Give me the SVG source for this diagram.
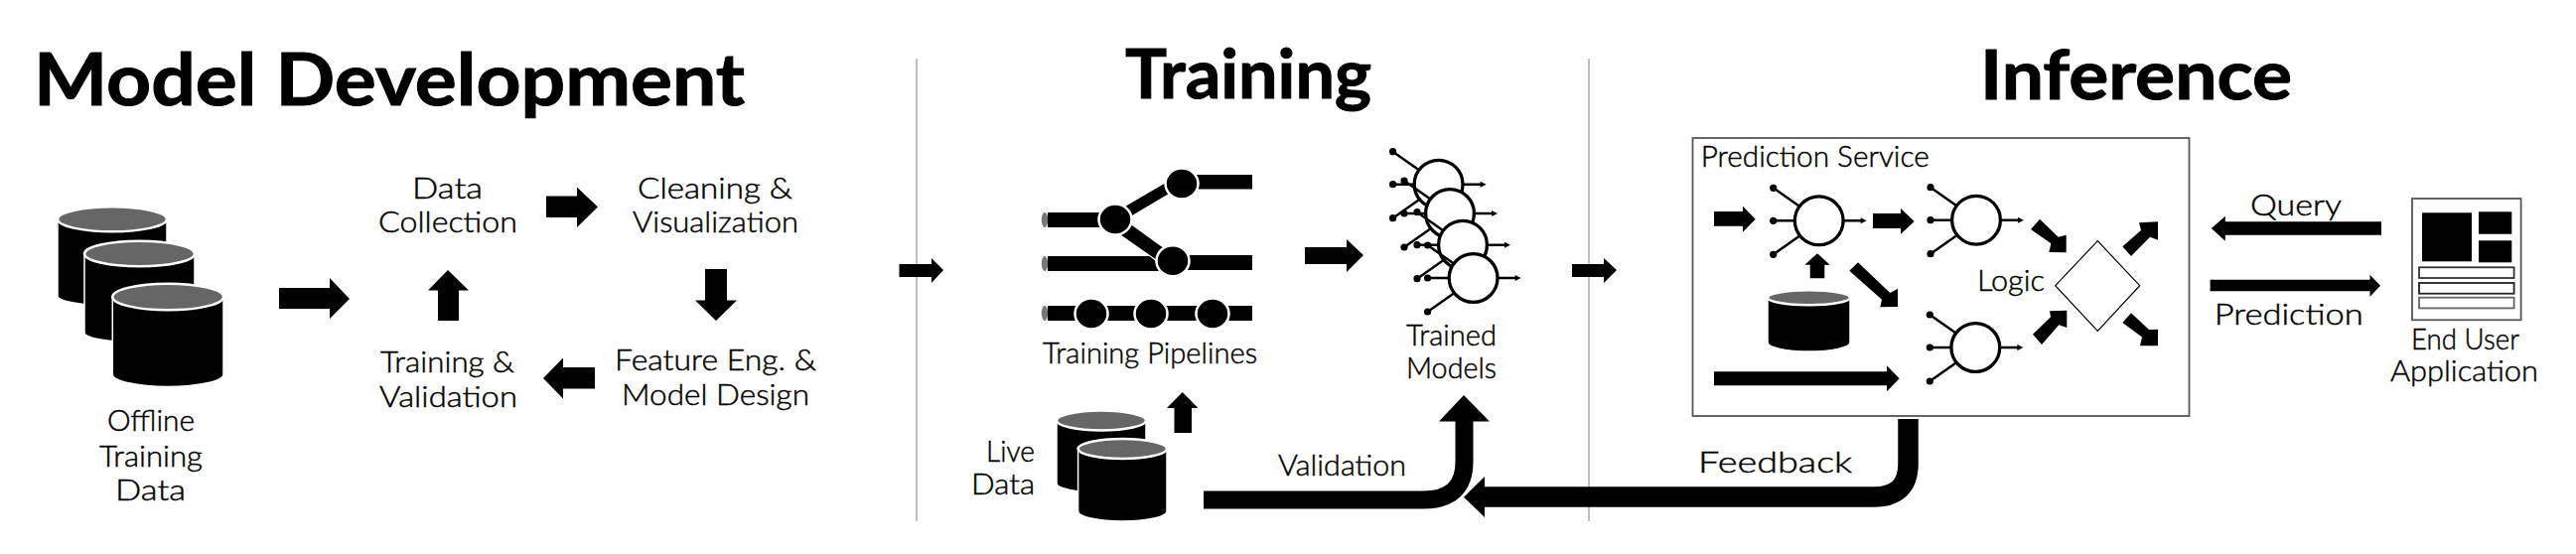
<svg xmlns="http://www.w3.org/2000/svg" width="2594" height="558" viewBox="0 0 2594 558">
<style>
text{font-family:"Lato","Liberation Sans",sans-serif;fill:#000;stroke:#000;stroke-width:.45px;font-size:29.500px;font-weight:300;text-anchor:start}
text.h{font-weight:700;font-size:68.500px;stroke-width:1px}
text.h1{font-size:73px}
.top{fill:#666;stroke:#fff;stroke-width:2.5}
.cb{fill:#000;stroke:#fff;stroke-width:1.5}
.n{fill:#fff;stroke:#000;stroke-width:3.3}
.w{stroke:#000;stroke-width:2.5;fill:none}
.pn{fill:#000;stroke:#fff;stroke-width:2.5}
.flow{fill:none;stroke:#000}
</style>
<defs>
<g id="neuron">
<path class="w" d="M-46,-33L-19,-14M-46,0H-25M-46,34L-19,15M25,0H43"/>
<circle cx="-46" cy="-33" r="3.6"/><circle cx="-46" cy="0" r="3.6"/><circle cx="-46" cy="34" r="3.6"/>
<path d="M42,-3L48,0L42,3Z"/>
<circle class="n" r="24.4"/>
</g>
</defs>
<rect width="2594" height="558" fill="#fff"/>
<g id="dividers" stroke="#aaa" stroke-width="1.5">
<path d="M923,59V525M1600,59V525"/>
</g>
<g id="titles">
<text class="h h1" x="34" y="106" textLength="716" lengthAdjust="spacingAndGlyphs">Model Development</text>
<text class="h" x="1133" y="99" textLength="248" lengthAdjust="spacingAndGlyphs">Training</text>
<text class="h" x="1994" y="100" textLength="314" lengthAdjust="spacingAndGlyphs">Inference</text>
</g>
<g id="offline-data">
<path class="cb" d="M58,221V298A55,10 0 0 0 168,298V221Z"/><ellipse class="top" cx="113" cy="220.800" rx="55" ry="12.500"/>
<path class="cb" d="M85,256V335A55.500,10 0 0 0 196,335V256Z"/><ellipse class="top" cx="140.500" cy="255.500" rx="55.500" ry="12.800"/>
<path class="cb" d="M113.300,299V377A55.850,12.500 0 0 0 225,377V299Z"/><ellipse class="top" cx="169.150" cy="299" rx="55.850" ry="13.300"/>
<text x="108" y="434" textLength="88" lengthAdjust="spacingAndGlyphs">Offline</text>
<text x="100" y="470" textLength="104" lengthAdjust="spacingAndGlyphs">Training</text>
<text x="116" y="504" textLength="71" lengthAdjust="spacingAndGlyphs">Data</text>
</g>
<g id="data-collection"><text x="415" y="199.500" textLength="71" lengthAdjust="spacingAndGlyphs">Data</text><text x="381" y="234" textLength="140" lengthAdjust="spacingAndGlyphs">Collection</text></g>
<g id="cleaning"><text x="642" y="199.500" textLength="156" lengthAdjust="spacingAndGlyphs">Cleaning &amp;</text><text x="637" y="234" textLength="167" lengthAdjust="spacingAndGlyphs">Visualization</text></g>
<g id="feature-eng"><text x="619" y="373" textLength="203" lengthAdjust="spacingAndGlyphs">Feature Eng. &amp;</text><text x="626" y="408" textLength="189" lengthAdjust="spacingAndGlyphs">Model Design</text></g>
<g id="training-validation"><text x="383" y="375" textLength="135" lengthAdjust="spacingAndGlyphs">Training &amp;</text><text x="382" y="409.500" textLength="139" lengthAdjust="spacingAndGlyphs">Validation</text></g>
<g id="training-pipelines">
<ellipse cx="1052" cy="221.500" rx="3.200" ry="7.500" fill="#777"/><ellipse cx="1052" cy="265.500" rx="3.200" ry="7.500" fill="#777"/><ellipse cx="1052" cy="315.500" rx="3.200" ry="7.500" fill="#777"/>
<path d="M1055,214H1125V229H1055ZM1195,176H1261V190.500H1195ZM1055,258H1157.500L1170,268L1175,273H1055ZM1185,257H1261V272H1185ZM1055,308H1261V323H1055Z"/>
<path d="M1132.500,208.300L1175.400,183.300L1177,195L1139.600,217.300ZM1139.600,226.700L1171.800,250L1164.600,261.700L1129,236.700Z"/>
<ellipse class="pn" cx="1123" cy="221" rx="16.500" ry="15.500"/>
<ellipse class="pn" cx="1190" cy="185" rx="16.500" ry="15.500"/>
<ellipse class="pn" cx="1181" cy="262.700" rx="16.500" ry="15.500"/>
<ellipse class="pn" cx="1099" cy="316" rx="16.500" ry="15.500"/>
<ellipse class="pn" cx="1159" cy="316" rx="16.500" ry="15.500"/>
<ellipse class="pn" cx="1221" cy="316" rx="16.500" ry="15.500"/>
<text x="1050" y="366" textLength="216" lengthAdjust="spacingAndGlyphs">Training Pipelines</text>
</g>
<g id="trained-models">
<use href="#neuron" x="1448.600" y="185.700"/>
<use href="#neuron" x="1460" y="215"/>
<use href="#neuron" x="1473" y="246.700"/>
<use href="#neuron" x="1483.600" y="280"/>
<text x="1416" y="347.500" textLength="91" lengthAdjust="spacingAndGlyphs">Trained</text>
<text x="1416" y="381" textLength="91" lengthAdjust="spacingAndGlyphs">Models</text>
</g>
<g id="live-data">
<path class="cb" d="M1064,423.500V487A45,9 0 0 0 1154,487V423.500Z"/><ellipse class="top" cx="1109" cy="423.500" rx="45" ry="10"/>
<path class="cb" d="M1085.600,452V515A44.700,10 0 0 0 1175,515V452Z"/><ellipse class="top" cx="1130.300" cy="452" rx="44.700" ry="10"/>
<text x="993" y="465" textLength="49" lengthAdjust="spacingAndGlyphs">Live</text>
<text x="978" y="498" textLength="64" lengthAdjust="spacingAndGlyphs">Data</text>
</g>
<g id="prediction-service">
<rect x="1704.500" y="139" width="500" height="280" fill="#fff" stroke="#555" stroke-width="1.800"/>
<text x="1712.700" y="167.700" textLength="230" lengthAdjust="spacingAndGlyphs">Prediction Service</text>
<use href="#neuron" x="1831.700" y="222.300"/>
<use href="#neuron" x="1990" y="221.700"/>
<use href="#neuron" x="1989.300" y="350"/>
<path class="cb" d="M1780,300V345A41.500,9 0 0 0 1863,345V300Z"/><ellipse class="top" cx="1821.500" cy="299.700" rx="41.500" ry="7.500"/>
<text x="1991" y="293.300" textLength="68" lengthAdjust="spacingAndGlyphs">Logic</text>
<path id="logic" d="M2069.700,287.700L2112.300,242.700L2154.700,287.700L2112.300,333.300Z" fill="#fff" stroke="#000" stroke-width="1.200"/>
</g>
<g id="end-user-app">
<rect x="2429" y="200" width="109.600" height="122.300" fill="#fff" stroke="#555" stroke-width="1.800"/>
<rect x="2439" y="214.300" width="50" height="49"/><rect x="2496" y="213.300" width="33.300" height="22.400"/><rect x="2496" y="242.300" width="33.300" height="22"/>
<g fill="#fff" stroke-width="1.800"><rect x="2436" y="269.300" width="95.600" height="10.700" stroke="#333"/><rect x="2436" y="285" width="95.600" height="10.700" stroke="#222"/><rect x="2436" y="299.700" width="95.600" height="10.700" stroke="#666"/></g>
<text x="2428" y="351.700" textLength="109" lengthAdjust="spacingAndGlyphs">End User</text>
<text x="2407" y="384.300" textLength="149" lengthAdjust="spacingAndGlyphs">Application</text>
</g>
<g id="connectors">
<path d="M281,290H332V280L352,301L332,321V311H281Z"/>
<path d="M550,197.500H581V188.600L602,208.500L581,229V219H550Z"/>
<path d="M710,271H732V302.500H742L721,323L700,302.500H710Z"/>
<path d="M599,370H567V360.500L547,381L567,401.500V391.500H599Z"/>
<path d="M441,323V292.500H431L451,272L472,292.500H462V323Z"/>
<path d="M905.500,266H938V260L950,272L938,285V279H905.500Z"/>
<path d="M1583,266H1615V260L1628,272L1615,285V279H1583Z"/>
<path d="M1314,249H1356V241L1373,257L1356,274V266H1314Z"/>
<path d="M1182.500,436V411H1175L1190.700,395L1206.500,411H1200V436Z"/>
<path class="flow" stroke-width="18" d="M1212,503.500H1433Q1474.500,503.500 1474.500,465V422"/>
<path d="M1449,424.500L1474,398L1500,424.500Z"/>
<path class="flow" stroke-width="20.500" d="M1921.500,422V467Q1921.500,500.500 1887,500.500H1493"/>
<path d="M1495,480L1474,500.700L1495,521Z"/>
<path d="M1726,213H1755V207.700L1767.700,220.700L1755,233.700V227.700H1726Z"/>
<path d="M1886,215H1914V210L1927.700,223L1914,235.700V230H1886Z"/>
<path d="M1726,374.300H1900V368.300L1912.700,381.300L1900,394.300V388.300H1726Z"/>
<path d="M1822.700,280.300V266.700H1817.300L1830,255.300L1842.700,266.700H1837.300V280.300Z"/>
<path d="M2045,231L2054,220.700L2072.700,238.700L2080.700,236.700V254.300L2063.300,254L2065.300,245.300Z"/>
<path d="M2047,336.700L2065,319.300L2064,313.300L2081.300,312.700V330L2073.300,327.300L2056,347Z"/>
<path d="M2137.300,248.300L2156,232L2154,224.300L2173,223.300V241.700L2165,238.700L2146,258Z"/>
<path d="M2137.300,325L2146,315.300L2164,332L2173,331.700V348.300H2155L2157,339.500Z"/>
<path d="M1862.300,272.700L1871,264.300L1903.300,295L1911,290.700V309L1893.300,309.300L1895,301.700Z"/>
<path d="M2398,223.300H2240.800V217.700L2226.800,230L2240.800,242.700V236.700H2398Z"/>
<path d="M2225.600,281.700H2386.500V276.700L2397,287.700L2386.500,298.700V293.300H2225.600Z"/>
</g>
<g id="connector-labels">
<text x="1287" y="479" textLength="129" lengthAdjust="spacingAndGlyphs">Validation</text>
<text x="1710" y="476" textLength="155" lengthAdjust="spacingAndGlyphs">Feedback</text>
<text x="2266" y="216.700" textLength="92" lengthAdjust="spacingAndGlyphs">Query</text>
<text x="2229.700" y="326.700" textLength="150" lengthAdjust="spacingAndGlyphs">Prediction</text>
</g>
</svg>
